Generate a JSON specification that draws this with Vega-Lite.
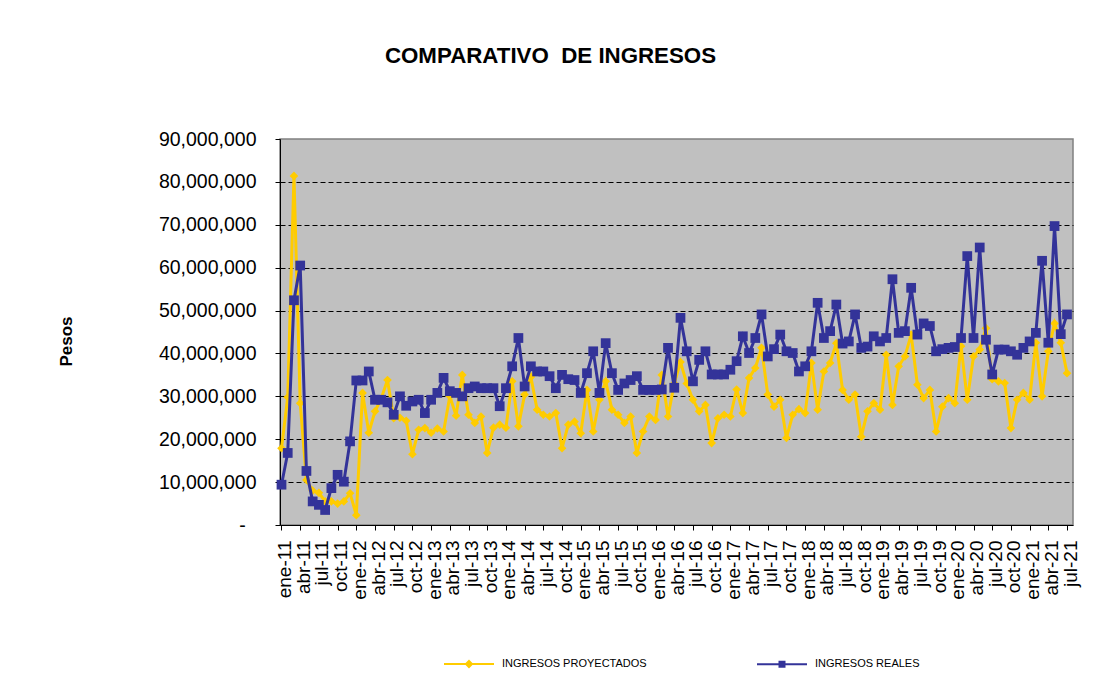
{
  "$schema": "https://vega.github.io/schema/vega-lite/v6.json",
  "width": 793,
  "height": 386,
  "autosize": {"type": "none"},
  "padding": {"left": 280, "top": 139, "right": 33, "bottom": 170},
  "background": "white",
  "title": {"text": "COMPARATIVO\u00a0 DE INGRESOS", "font": "Liberation Sans", "fontSize": 22.3, "fontWeight": "bold", "color": "black", "anchor": "middle", "frame": "group", "dx": -126, "offset": 62},
  "config": {
    "font": "Liberation Sans",
    "view": {"fill": "#C0C0C0", "stroke": "#808080", "strokeWidth": 1.5}
  },
  "data": {"values": [
    {"fecha": "2011-01", "proyectados": 17900000, "reales": 9400000},
    {"fecha": "2011-02", "proyectados": 29800000, "reales": 16800000},
    {"fecha": "2011-03", "proyectados": 81400000, "reales": 52400000},
    {"fecha": "2011-04", "proyectados": 28400000, "reales": 60500000},
    {"fecha": "2011-05", "proyectados": 10500000, "reales": 12600000},
    {"fecha": "2011-06", "proyectados": 8000000, "reales": 5500000},
    {"fecha": "2011-07", "proyectados": 7500000, "reales": 4700000},
    {"fecha": "2011-08", "proyectados": 5500000, "reales": 3500000},
    {"fecha": "2011-09", "proyectados": 5500000, "reales": 8600000},
    {"fecha": "2011-10", "proyectados": 5000000, "reales": 11700000},
    {"fecha": "2011-11", "proyectados": 5500000, "reales": 10100000},
    {"fecha": "2011-12", "proyectados": 7400000, "reales": 19500000},
    {"fecha": "2012-01", "proyectados": 2300000, "reales": 33700000},
    {"fecha": "2012-02", "proyectados": 30800000, "reales": 33700000},
    {"fecha": "2012-03", "proyectados": 21500000, "reales": 35800000},
    {"fecha": "2012-04", "proyectados": 26500000, "reales": 29200000},
    {"fecha": "2012-05", "proyectados": 29500000, "reales": 29200000},
    {"fecha": "2012-06", "proyectados": 33800000, "reales": 28600000},
    {"fecha": "2012-07", "proyectados": 24900000, "reales": 25700000},
    {"fecha": "2012-08", "proyectados": 25000000, "reales": 30000000},
    {"fecha": "2012-09", "proyectados": 24300000, "reales": 27800000},
    {"fecha": "2012-10", "proyectados": 16500000, "reales": 28800000},
    {"fecha": "2012-11", "proyectados": 22200000, "reales": 29200000},
    {"fecha": "2012-12", "proyectados": 22600000, "reales": 26100000},
    {"fecha": "2013-01", "proyectados": 21500000, "reales": 29200000},
    {"fecha": "2013-02", "proyectados": 22500000, "reales": 30800000},
    {"fecha": "2013-03", "proyectados": 21800000, "reales": 34300000},
    {"fecha": "2013-04", "proyectados": 30000000, "reales": 31200000},
    {"fecha": "2013-05", "proyectados": 25500000, "reales": 30800000},
    {"fecha": "2013-06", "proyectados": 35000000, "reales": 30000000},
    {"fecha": "2013-07", "proyectados": 25700000, "reales": 31900000},
    {"fecha": "2013-08", "proyectados": 23800000, "reales": 32300000},
    {"fecha": "2013-09", "proyectados": 25300000, "reales": 31900000},
    {"fecha": "2013-10", "proyectados": 16800000, "reales": 31900000},
    {"fecha": "2013-11", "proyectados": 22700000, "reales": 31900000},
    {"fecha": "2013-12", "proyectados": 23400000, "reales": 27700000},
    {"fecha": "2014-01", "proyectados": 22700000, "reales": 31900000},
    {"fecha": "2014-02", "proyectados": 33500000, "reales": 37000000},
    {"fecha": "2014-03", "proyectados": 23000000, "reales": 43600000},
    {"fecha": "2014-04", "proyectados": 30400000, "reales": 32300000},
    {"fecha": "2014-05", "proyectados": 34500000, "reales": 37000000},
    {"fecha": "2014-06", "proyectados": 26900000, "reales": 35800000},
    {"fecha": "2014-07", "proyectados": 25700000, "reales": 35800000},
    {"fecha": "2014-08", "proyectados": 25300000, "reales": 34700000},
    {"fecha": "2014-09", "proyectados": 26100000, "reales": 31900000},
    {"fecha": "2014-10", "proyectados": 17900000, "reales": 35000000},
    {"fecha": "2014-11", "proyectados": 23400000, "reales": 34000000},
    {"fecha": "2014-12", "proyectados": 24100000, "reales": 33800000},
    {"fecha": "2015-01", "proyectados": 21400000, "reales": 30800000},
    {"fecha": "2015-02", "proyectados": 31500000, "reales": 35400000},
    {"fecha": "2015-03", "proyectados": 21800000, "reales": 40500000},
    {"fecha": "2015-04", "proyectados": 29200000, "reales": 30800000},
    {"fecha": "2015-05", "proyectados": 33500000, "reales": 42400000},
    {"fecha": "2015-06", "proyectados": 26900000, "reales": 35400000},
    {"fecha": "2015-07", "proyectados": 25700000, "reales": 31500000},
    {"fecha": "2015-08", "proyectados": 23800000, "reales": 33000000},
    {"fecha": "2015-09", "proyectados": 25300000, "reales": 33800000},
    {"fecha": "2015-10", "proyectados": 16800000, "reales": 34700000},
    {"fecha": "2015-11", "proyectados": 21800000, "reales": 31500000},
    {"fecha": "2015-12", "proyectados": 25300000, "reales": 31500000},
    {"fecha": "2016-01", "proyectados": 24500000, "reales": 31500000},
    {"fecha": "2016-02", "proyectados": 35000000, "reales": 31600000},
    {"fecha": "2016-03", "proyectados": 25300000, "reales": 41300000},
    {"fecha": "2016-04", "proyectados": 33000000, "reales": 32000000},
    {"fecha": "2016-05", "proyectados": 38000000, "reales": 48300000},
    {"fecha": "2016-06", "proyectados": 33000000, "reales": 40500000},
    {"fecha": "2016-07", "proyectados": 29200000, "reales": 33500000},
    {"fecha": "2016-08", "proyectados": 26500000, "reales": 38500000},
    {"fecha": "2016-09", "proyectados": 28000000, "reales": 40500000},
    {"fecha": "2016-10", "proyectados": 19100000, "reales": 35100000},
    {"fecha": "2016-11", "proyectados": 24900000, "reales": 35100000},
    {"fecha": "2016-12", "proyectados": 25700000, "reales": 35100000},
    {"fecha": "2017-01", "proyectados": 25300000, "reales": 36200000},
    {"fecha": "2017-02", "proyectados": 31600000, "reales": 38200000},
    {"fecha": "2017-03", "proyectados": 26100000, "reales": 44000000},
    {"fecha": "2017-04", "proyectados": 34300000, "reales": 40100000},
    {"fecha": "2017-05", "proyectados": 36600000, "reales": 43600000},
    {"fecha": "2017-06", "proyectados": 41300000, "reales": 49100000},
    {"fecha": "2017-07", "proyectados": 30400000, "reales": 39300000},
    {"fecha": "2017-08", "proyectados": 27600000, "reales": 41000000},
    {"fecha": "2017-09", "proyectados": 29200000, "reales": 44400000},
    {"fecha": "2017-10", "proyectados": 20300000, "reales": 40500000},
    {"fecha": "2017-11", "proyectados": 25700000, "reales": 40100000},
    {"fecha": "2017-12", "proyectados": 27000000, "reales": 35800000},
    {"fecha": "2018-01", "proyectados": 26100000, "reales": 37000000},
    {"fecha": "2018-02", "proyectados": 37800000, "reales": 40500000},
    {"fecha": "2018-03", "proyectados": 26900000, "reales": 51800000},
    {"fecha": "2018-04", "proyectados": 35800000, "reales": 43600000},
    {"fecha": "2018-05", "proyectados": 37800000, "reales": 45200000},
    {"fecha": "2018-06", "proyectados": 42400000, "reales": 51400000},
    {"fecha": "2018-07", "proyectados": 31500000, "reales": 42300000},
    {"fecha": "2018-08", "proyectados": 29200000, "reales": 42800000},
    {"fecha": "2018-09", "proyectados": 30400000, "reales": 49100000},
    {"fecha": "2018-10", "proyectados": 20600000, "reales": 41300000},
    {"fecha": "2018-11", "proyectados": 26500000, "reales": 41600000},
    {"fecha": "2018-12", "proyectados": 28400000, "reales": 44000000},
    {"fecha": "2019-01", "proyectados": 26900000, "reales": 42800000},
    {"fecha": "2019-02", "proyectados": 39700000, "reales": 43600000},
    {"fecha": "2019-03", "proyectados": 28000000, "reales": 57300000},
    {"fecha": "2019-04", "proyectados": 37000000, "reales": 44800000},
    {"fecha": "2019-05", "proyectados": 39300000, "reales": 45200000},
    {"fecha": "2019-06", "proyectados": 44400000, "reales": 55300000},
    {"fecha": "2019-07", "proyectados": 32700000, "reales": 44400000},
    {"fecha": "2019-08", "proyectados": 29600000, "reales": 47000000},
    {"fecha": "2019-09", "proyectados": 31500000, "reales": 46400000},
    {"fecha": "2019-10", "proyectados": 21800000, "reales": 40500000},
    {"fecha": "2019-11", "proyectados": 27600000, "reales": 41000000},
    {"fecha": "2019-12", "proyectados": 29600000, "reales": 41300000},
    {"fecha": "2020-01", "proyectados": 28400000, "reales": 41500000},
    {"fecha": "2020-02", "proyectados": 41700000, "reales": 43600000},
    {"fecha": "2020-03", "proyectados": 29200000, "reales": 62700000},
    {"fecha": "2020-04", "proyectados": 39300000, "reales": 43600000},
    {"fecha": "2020-05", "proyectados": 40900000, "reales": 64700000},
    {"fecha": "2020-06", "proyectados": 45900000, "reales": 43200000},
    {"fecha": "2020-07", "proyectados": 34000000, "reales": 35100000},
    {"fecha": "2020-08", "proyectados": 33500000, "reales": 40900000},
    {"fecha": "2020-09", "proyectados": 33100000, "reales": 40900000},
    {"fecha": "2020-10", "proyectados": 22600000, "reales": 40500000},
    {"fecha": "2020-11", "proyectados": 29200000, "reales": 39700000},
    {"fecha": "2020-12", "proyectados": 30800000, "reales": 41300000},
    {"fecha": "2021-01", "proyectados": 29200000, "reales": 42800000},
    {"fecha": "2021-02", "proyectados": 42500000, "reales": 44800000},
    {"fecha": "2021-03", "proyectados": 30000000, "reales": 61600000},
    {"fecha": "2021-04", "proyectados": 40500000, "reales": 42500000},
    {"fecha": "2021-05", "proyectados": 47000000, "reales": 69700000},
    {"fecha": "2021-06", "proyectados": 42500000, "reales": 44500000},
    {"fecha": "2021-07", "proyectados": 35400000, "reales": 49100000}
  ]},
  "transform": [{"fold": ["proyectados", "reales"], "as": ["serie", "valor"]}],
  "encoding": {
    "x": {
      "field": "fecha", "timeUnit": "utcyearmonth", "type": "ordinal",
      "scale": {"type": "point", "padding": 0.6, "align": 0.2},
      "axis": {
        "title": null, "grid": false,
        "labelExpr": "utcmonth(datum.value) % 3 == 0 ? ['ene','feb','mar','abr','may','jun','jul','ago','sep','oct','nov','dic'][utcmonth(datum.value)] + '-' + utcFormat(datum.value, '%y') : ''",
        "labelAngle": 270, "labelAlign": "right", "labelBaseline": "middle",
        "labelFontSize": 19, "labelColor": "black", "labelPadding": 10, "labelOffset": 3, "labelOverlap": false,
        "tickSize": 5, "tickColor": {"condition": {"test": "utcmonth(datum.value) % 3 != 0", "value": "transparent"}, "value": "black"},
        "domainColor": "black", "domainWidth": 1
      }
    },
    "y": {
      "field": "valor", "type": "quantitative",
      "scale": {"domain": [0, 90000000], "nice": false},
      "axis": {
        "values": [0, 10000000, 20000000, 30000000, 40000000, 50000000, 60000000, 70000000, 80000000, 90000000],
        "labelExpr": "datum.value == 0 ? '-\u2007\u200b' : format(datum.value, ',')",
        "labelFontSize": 19.5, "labelColor": "black", "labelPadding": 19,
        "tickSize": 5, "tickColor": "black", "domainColor": "black", "domainWidth": 1,
        "grid": true,
        "gridColor": {"condition": {"test": "datum.value == 0 || datum.value == 90000000", "value": "transparent"}, "value": "black"},
        "gridDash": [5, 3], "gridWidth": 1.2,
        "title": "Pesos", "titleFontSize": 17, "titleFontWeight": "bold", "titleColor": "black",
        "titleAngle": 270, "titleAlign": "center", "titleBaseline": "middle", "titleX": -214, "titleY": 202
      }
    },
    "color": {
      "field": "serie", "type": "nominal",
      "scale": {"domain": ["proyectados", "reales"], "range": ["#FFCC00", "#333399"]},
      "legend": {
        "orient": "none", "legendX": 163, "legendY": 499, "direction": "horizontal", "title": null,
        "symbolSize": 2500, "symbolStrokeWidth": 2, "symbolOpacity": 1,
        "labelFontSize": 11, "labelColor": "black", "labelOffset": 7, "columnPadding": 106,
        "labelExpr": "datum.label == 'proyectados' ? 'INGRESOS PROYECTADOS' : 'INGRESOS REALES'"
      }
    }
  },
  "layer": [
    {
      "transform": [{"filter": "datum.serie == 'proyectados'"}],
      "mark": {"type": "line", "strokeWidth": 3, "point": {"shape": "diamond", "size": 75, "filled": true}}
    },
    {
      "transform": [{"filter": "datum.serie == 'reales'"}],
      "mark": {"type": "line", "strokeWidth": 3, "point": {"shape": "square", "size": 95, "filled": true}}
    },
    {
      "mark": {"type": "point", "opacity": 0},
      "encoding": {
        "shape": {
          "field": "serie", "type": "nominal",
          "scale": {"domain": ["proyectados", "reales"], "range": ["M-1,0H1M0,-0.12L0.12,0L0,0.12L-0.12,0Z", "M-1,0H1M-0.1,-0.1H0.1V0.1H-0.1Z"]},
          "legend": {
            "orient": "none", "legendX": 163, "legendY": 499, "direction": "horizontal", "title": null,
            "symbolSize": 2500, "symbolStrokeWidth": 2, "symbolOpacity": 1,
            "labelFontSize": 11, "labelColor": "black", "labelOffset": 7, "columnPadding": 106,
            "labelExpr": "datum.label == 'proyectados' ? 'INGRESOS PROYECTADOS' : 'INGRESOS REALES'"
          }
        }
      }
    }
  ]
}
